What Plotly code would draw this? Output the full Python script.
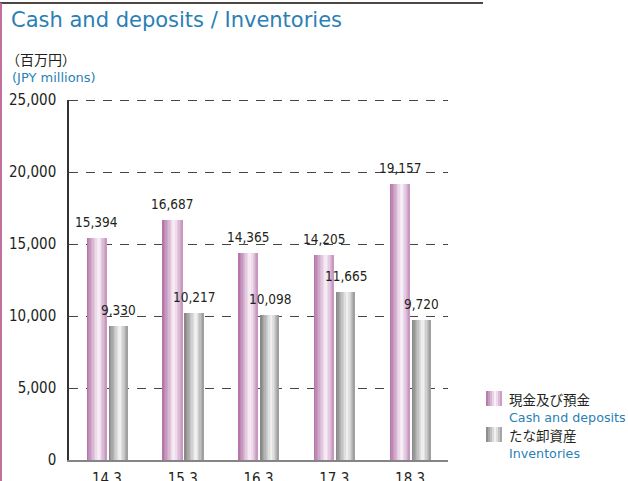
import plotly.graph_objects as go

categories = ["14.3", "15.3", "16.3", "17.3", "18.3"]
cash = [15394, 16687, 14365, 14205, 19157]
inventories = [9330, 10217, 10098, 11665, 9720]
y_ticks = [0, 5000, 10000, 15000, 20000, 25000]
y_tick_labels = ["0", "5,000", "10,000", "15,000", "20,000", "25,000"]

W, H = 628, 481
L, R, T, B = 69, 448, 100, 460
FONT = "DejaVu Sans, Noto Sans CJK JP, sans-serif"
COND = "DejaVu Sans Condensed, DejaVu Sans, sans-serif"
CJK = "Noto Sans CJK JP, DejaVu Sans, sans-serif"
BLUE = "#2a7fb5"
DARK = "#231f20"
GRID = "#454545"


def px(x):
    return (x - L) / (R - L)


def py(y):
    return (B - y) / (B - T)


def hex2rgb(h):
    h = h.lstrip("#")
    return tuple(int(h[i:i + 2], 16) for i in (0, 2, 4))


def grad(stops, t):
    for (t0, c0), (t1, c1) in zip(stops, stops[1:]):
        if t0 <= t <= t1:
            f = (t - t0) / (t1 - t0) if t1 > t0 else 0
            a, b = hex2rgb(c0), hex2rgb(c1)
            return "rgb(%d,%d,%d)" % tuple(round(a[k] + (b[k] - a[k]) * f) for k in range(3))
    return stops[-1][1]


PINK = [(0.0, "#b06fa5"), (0.58, "#fbf4fa"), (1.0, "#c48fbc")]
GRAY = [(0.0, "#828282"), (0.58, "#f6f6f6"), (1.0, "#989898")]

fig = go.Figure()
xs = list(range(len(categories)))
N = 14


def add_bars(values, center_off, width, stops):
    left = center_off - width / 2
    sw = width / N
    for j in range(N):
        w = width - j * sw
        fig.add_trace(go.Bar(
            x=[i + left + j * sw + w / 2 for i in xs], y=values, width=w,
            marker=dict(color=grad(stops, (j + 0.5) / N), line=dict(width=0)),
            hoverinfo="skip", showlegend=False,
        ))
    for i, v in zip(xs, values):
        fig.add_annotation(x=i + center_off, y=v, text=f"{v:,}", showarrow=False,
                           xanchor="center", yanchor="bottom", yshift=6,
                           font=dict(family=COND, size=13.5, color=DARK))


add_bars(cash, -0.135, 0.265, PINK)
add_bars(inventories, 0.148, 0.25, GRAY)

fig.update_layout(
    width=W, height=H, autosize=False, barmode="overlay", bargap=0,
    margin=dict(l=L, r=W - R, t=T, b=H - B, pad=0, autoexpand=False),
    paper_bgcolor="white", plot_bgcolor="white",
    font=dict(family=FONT, size=14, color=DARK),
    showlegend=False,
    xaxis=dict(range=[-0.5, 4.5], tickvals=xs, ticktext=categories, automargin=False,
               showgrid=False, zeroline=False, showline=True, linecolor="#858585",
               linewidth=2, ticks="", ticklabelstandoff=4,
               tickfont=dict(family=COND, size=15, color=DARK), fixedrange=True),
    yaxis=dict(range=[0, 25000], tickvals=y_ticks, ticktext=y_tick_labels, automargin=False,
               showgrid=True, gridcolor=GRID, gridwidth=1, griddash="9px,8px",
               zeroline=False, showline=True, linecolor="#333333", linewidth=1.5,
               ticks="", ticklabelstandoff=8,
               tickfont=dict(family=COND, size=15, color=DARK), fixedrange=True),
)

# top gridline (plotly hides the grid line at the range edge)
fig.add_shape(type="line", xref="paper", yref="y", ysizemode="pixel", yanchor=y_ticks[-1],
              x0=0, x1=1, y0=-0.5, y1=-0.5,
              line=dict(color=GRID, width=1, dash="9px,8px"), layer="below")

# decorative frame lines
fig.add_shape(type="line", xref="paper", yref="paper", x0=px(0), x1=px(483),
              y0=py(3), y1=py(3), line=dict(color="#4d4643", width=2))
fig.add_shape(type="line", xref="paper", yref="paper", x0=px(1), x1=px(1),
              y0=py(3), y1=py(481), line=dict(color="#c0709a", width=2))

# titles
fig.add_annotation(xref="paper", yref="paper", x=px(9), y=py(20), text="Cash and deposits / Inventories",
                   showarrow=False, xanchor="left", yanchor="middle",
                   font=dict(family=FONT, size=21, color=BLUE))
fig.add_annotation(xref="paper", yref="paper", x=px(4), y=py(59), text="（百万円）",
                   showarrow=False, xanchor="left", yanchor="middle",
                   font=dict(family=CJK, size=14, color=DARK))
fig.add_annotation(xref="paper", yref="paper", x=px(10), y=py(77), text="(JPY millions)",
                   showarrow=False, xanchor="left", yanchor="middle",
                   font=dict(family=FONT, size=13, color=BLUE))

# legend
legend_items = [("現金及び預金", "Cash and deposits", PINK, 391),
                ("たな卸資産", "Inventories", GRAY, 427)]
for jp, en, stops, top in legend_items:
    n = 8
    for j in range(n):
        x0 = 486 + j * 16 / n
        fig.add_shape(type="rect", xref="paper", yref="paper",
                      x0=px(x0), x1=px(502), y0=py(top), y1=py(top + 15),
                      line=dict(width=0), fillcolor=grad(stops, (j + 0.5) / n))
    fig.add_annotation(xref="paper", yref="paper", x=px(507), y=py(top + 8), text=jp,
                       showarrow=False, xanchor="left", yanchor="middle",
                       font=dict(family=CJK, size=13.5, color=DARK))
    fig.add_annotation(xref="paper", yref="paper", x=px(507), y=py(top + 26), text=en,
                       showarrow=False, xanchor="left", yanchor="middle",
                       font=dict(family=FONT, size=12.7, color=BLUE))

fig.write_html("out.html", config={"displayModeBar": False},
               post_script="document.body.style.margin='0';document.body.style.overflow='hidden';")
